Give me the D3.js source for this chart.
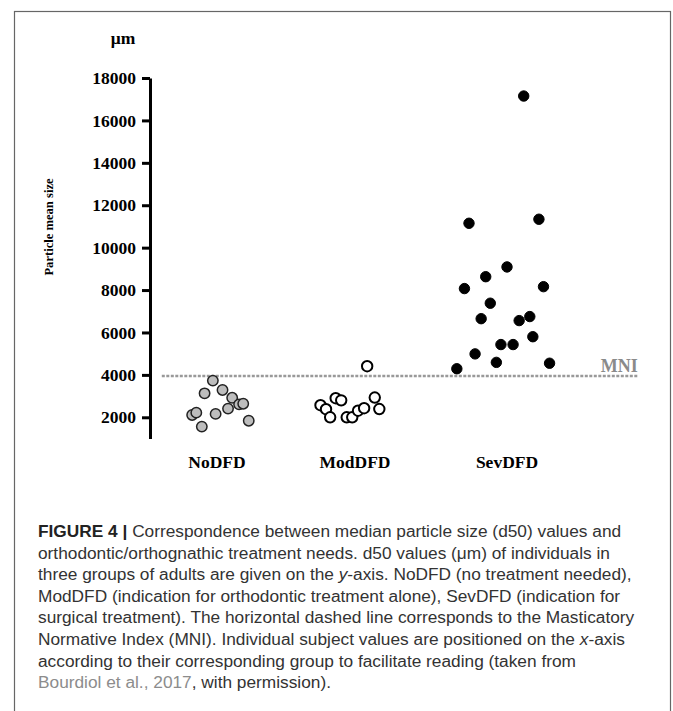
<!DOCTYPE html>
<html lang="en">

<head>
  <meta charset="utf-8">
  <title>Figure 4 - particle size</title>
  <script src="https://d3js.org/d3.v7.min.js"></script>
  <style>
    body {
      margin: 0;
      background: white;
    }
    .axis text {
      font-family: 'Liberation Serif', serif;
      font-weight: bold;
      font-size: 17.5px;
      fill: black;
    }
    .axis path, .axis line {
      stroke: black;
      stroke-width: 3px;
    }
    .cat {
      font-family: 'Liberation Serif', serif;
      font-weight: bold;
      font-size: 17.5px;
      text-anchor: middle;
    }
    .caption {
      font-family: 'Liberation Sans', sans-serif;
      font-size: 17.3px;
      fill: #333;
    }
  </style>
</head>

<body>
  <div id="chart"></div>
  <script>
    var w = 673;
    var h = 711;

    var categories = ['NoDFD', 'ModDFD', 'SevDFD'];
    var catPos = [1, 2, 3];
    var yTicks = [2000, 4000, 6000, 8000, 10000, 12000, 14000, 16000, 18000];
    var mni = 3950;

    // x is the plotted group position (jittered), y is d50 in µm
    var noX = [0.82, 0.85, 0.89, 0.91, 0.97, 0.99, 1.04, 1.08, 1.11, 1.16, 1.19, 1.23];
    var noY = [2110, 2220, 1560, 3130, 3730, 2160, 3290, 2410, 2920, 2610, 2640, 1840];
    var modX = [2.08, 1.75, 1.79, 1.82, 1.86, 1.90, 1.94, 1.98, 2.02, 2.06, 2.13, 2.16];
    var modY = [4410, 2570, 2380, 2000, 2900, 2800, 2000, 2000, 2310, 2430, 2930, 2390];
    var sevX = [3.11, 2.75, 3.21, 3.00, 2.86, 2.72, 3.24, 2.89, 2.83, 3.08, 3.15, 3.17, 2.96, 3.04, 2.79, 2.93, 3.28, 2.67];
    var sevY = [17150, 11150, 11340, 9090, 8630, 8070, 8160, 7380, 6650, 6560, 6750, 5800, 5430, 5430, 4990, 4590, 4550, 4290];

    var captionLines = [
      [['FIGURE 4 | ', 'b'], ['Correspondence between median particle size (d50) values and', '']],
      [['orthodontic/orthognathic treatment needs. d50 values (\u03bcm) of individuals in', '']],
      [['three groups of adults are given on the ', ''], ['y', 'i'], ['-axis. NoDFD (no treatment needed),', '']],
      [['ModDFD (indication for orthodontic treatment alone), SevDFD (indication for', '']],
      [['surgical treatment). The horizontal dashed line corresponds to the Masticatory', '']],
      [['Normative Index (MNI). Individual subject values are positioned on the ', ''], ['x', 'i'], ['-axis', '']],
      [['according to their corresponding group to facilitate reading (taken from', '']],
      [['Bourdiol et al., 2017', 'g'], [', with permission).', '']]
    ];

    var x = d3.scaleLinear()
      .domain([1, 2, 3])
      .range([217, 355, 507]);
    var y = d3.scaleLinear()
      .domain([1000, 18000])
      .range([438.5, 78]);

    var svg = d3.select('#chart').append('svg')
      .attr('width', w)
      .attr('height', h);

    // frame round the figure
    svg.append('rect')
      .attr('x', 14.5)
      .attr('y', 11.5)
      .attr('width', 656)
      .attr('height', 800)
      .style('fill', 'none')
      .style('stroke', '#666')
      .style('stroke-width', 1.2);

    svg.append('g')
      .attr('class', 'axis')
      .attr('transform', 'translate(150,0)')
      .call(d3.axisLeft(y)
        .tickValues(yTicks)
        .tickFormat(d3.format('d'))
        .tickSize(8)
        .tickPadding(6)
        .tickSizeOuter(0));

    svg.append('text')
      .attr('x', 123)
      .attr('y', 44)
      .attr('text-anchor', 'middle')
      .style('font-family', 'Liberation Serif, serif')
      .style('font-weight', 'bold')
      .style('font-size', '17.5px')
      .text('\u03bcm');

    svg.append('text')
      .attr('transform', 'translate(53,227) rotate(-90)')
      .attr('text-anchor', 'middle')
      .style('font-family', 'Liberation Serif, serif')
      .style('font-weight', 'bold')
      .style('font-size', '12.6px')
      .text('Particle mean size');

    svg.selectAll('text.cat')
      .data(categories)
      .enter().append('text')
      .attr('class', 'cat')
      .attr('x', function (d, i) { return x(catPos[i]); })
      .attr('y', 467.5)
      .text(function (d) { return d; });

    // masticatory normative index
    svg.append('line')
      .attr('x1', x(0.6))
      .attr('x2', x(3.86))
      .attr('y1', y(mni))
      .attr('y2', y(mni))
      .style('stroke', '#999')
      .style('stroke-width', 2.6)
      .style('stroke-dasharray', '3,1.5');

    svg.append('text')
      .attr('x', x(3.86))
      .attr('y', y(mni) - 4)
      .attr('text-anchor', 'end')
      .style('font-family', 'Liberation Serif, serif')
      .style('font-weight', 'bold')
      .style('font-size', '18px')
      .style('fill', '#8a8a8a')
      .text('MNI');

    function dots(xs, ys, fill, stroke, sw) {
      svg.append('g').selectAll('circle')
        .data(ys)
        .enter().append('circle')
        .attr('cx', function (d, i) { return x(xs[i]); })
        .attr('cy', function (d) { return y(d); })
        .attr('r', 5.2)
        .style('fill', fill)
        .style('stroke', stroke)
        .style('stroke-width', sw);
    }
    dots(noX, noY, '#bdbdbd', '#222', 1.5);
    dots(modX, modY, 'white', 'black', 2);
    dots(sevX, sevY, 'black', 'black', 1);

    var cap = svg.append('text')
      .attr('class', 'caption');
    cap.selectAll('tspan.line')
      .data(captionLines)
      .enter().append('tspan')
      .attr('class', 'line')
      .attr('x', 38)
      .attr('y', function (d, i) { return 537 + i * 21.6; })
      .each(function (parts) {
        var line = d3.select(this);
        parts.forEach(function (p) {
          var t = line.append('tspan').text(p[0]);
          if (p[1] === 'b') t.style('font-weight', 'bold').style('fill', '#222');
          if (p[1] === 'i') t.style('font-style', 'italic');
          if (p[1] === 'g') t.style('fill', '#8c8c8c');
        });
      });
  </script>
</body>

</html>
